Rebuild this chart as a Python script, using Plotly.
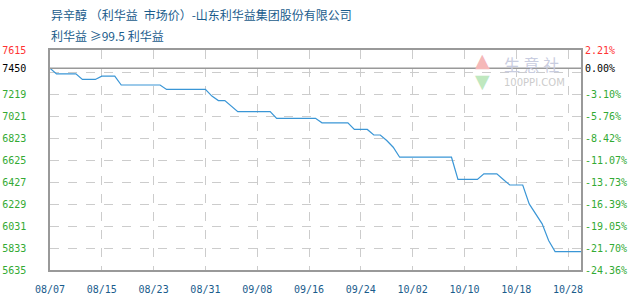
import plotly.graph_objects as go

# ---- data ----
TITLE = "异辛醇 （利华益\u2002市场价）-山东利华益集团股份有限公司"
SUBTITLE = "利华益 ≥99.5 利华益"
BASE = 7450
x_labels = ["08/07", "08/15", "08/23", "08/31", "09/08", "09/16", "09/24",
            "10/02", "10/10", "10/18", "10/28"]
x_label_pos = [0, 8, 16, 24, 32, 40, 48, 56, 64, 72, 80]
prices = [7450, 7400, 7400, 7400, 7400, 7350, 7350, 7350, 7380, 7380,
          7380, 7300, 7300, 7300, 7300, 7300, 7300, 7300, 7260, 7260,
          7260, 7260, 7260, 7260, 7260, 7200, 7160, 7160, 7110, 7060,
          7060, 7060, 7060, 7060, 7060, 7000, 7000, 7000, 7000, 7000,
          7000, 7000, 6960, 6960, 6960, 6960, 6960, 6900, 6900, 6900,
          6850, 6850, 6800, 6740, 6650, 6650, 6650, 6650, 6650, 6650,
          6650, 6650, 6650, 6450, 6450, 6450, 6450, 6500, 6500, 6500,
          6450, 6400, 6400, 6400, 6230, 6140, 6050, 5900, 5800, 5800,
          5800, 5800, 5800]
y_min, y_max, y_step = 5635, 7615, 198

xs = list(range(len(prices)))

grid_vals = [y_min + y_step * i for i in range(11)]
tick_vals = grid_vals + [BASE]


def left_label(v):
    if v == y_max:
        return f"<span style='color:#ff3333'>{v}</span>"
    if v == BASE:
        return f"<span style='color:#000000'>{v}</span>"
    if abs(v - BASE) < 40:
        return ""
    return str(v)


def right_label(v):
    pct = (v - BASE) / BASE * 100
    s = f"{pct:.2f}%"
    if v == y_max:
        return f"<span style='color:#ff3333'>{s}</span>"
    if v == BASE:
        return f"<span style='color:#000000'>{s}</span>"
    if abs(v - BASE) < 40:
        return ""
    return s


fig = go.Figure()
fig.add_trace(go.Scatter(x=xs, y=prices, mode="lines",
                         line=dict(color="#3a96d6", width=1.2, shape="linear"),
                         hoverinfo="skip", showlegend=False))
# invisible trace for the right axis
fig.add_trace(go.Scatter(x=[xs[0]], y=[BASE], yaxis="y2", mode="markers",
                         marker=dict(opacity=0), hoverinfo="skip", showlegend=False))

fig.add_hline(y=BASE, line=dict(color="#999999", width=1.5))

tick_font = dict(family="DejaVu Sans Mono", size=10)

fig.update_layout(
    width=630, height=300,
    margin=dict(l=50, r=49, t=50, b=30, autoexpand=False),
    paper_bgcolor="white", plot_bgcolor="white",
    xaxis=dict(range=[0, 82], tickmode="array", tickvals=x_label_pos,
               ticktext=x_labels, showgrid=True, gridcolor="#cccccc",
               griddash="dash", gridwidth=1, zeroline=False, automargin=False,
               showline=True, linecolor="#999999", linewidth=1.5, mirror=True,
               ticks="", ticklabelstandoff=9,
               tickfont=dict(tick_font, color="#1a5c8c")),
    yaxis=dict(range=[y_min, y_max], tickmode="array", tickvals=tick_vals,
               ticktext=[left_label(v) for v in tick_vals], automargin=False,
               showgrid=True, gridcolor="#cccccc", griddash="dash", gridwidth=1,
               zeroline=False, showline=True, linecolor="#999999", linewidth=1.5,
               mirror=True, ticks="", ticklabelstandoff=20,
               tickfont=dict(tick_font, color="#33aa33")),
    yaxis2=dict(range=[y_min, y_max], overlaying="y", side="right",
                tickmode="array", tickvals=tick_vals, automargin=False,
                ticktext=[right_label(v) for v in tick_vals],
                showgrid=False, zeroline=False, ticks="", ticklabelstandoff=3,
                tickfont=dict(tick_font, color="#33aa33")),
    annotations=[
        dict(text=TITLE, xref="paper", yref="paper", x=0,
             y=(270 - 15) / 220, xanchor="left", yanchor="middle",
             showarrow=False, borderpad=0,
             font=dict(family="Noto Sans CJK SC", size=12, color="#1a5c8c")),
        dict(text=SUBTITLE, xref="paper", yref="paper", x=0,
             y=(270 - 36) / 220, xanchor="left", yanchor="middle",
             showarrow=False, borderpad=0,
             font=dict(family="Noto Sans CJK SC", size=12, color="#1a5c8c")),
        dict(text="▲", xref="paper", yref="paper", x=(482 - 50) / 531,
             y=(270 - 60) / 220, xanchor="center", yanchor="middle",
             showarrow=False, borderpad=0,
             font=dict(family="DejaVu Sans", size=19, color="#f5b8b8")),
        dict(text="▼", xref="paper", yref="paper", x=(482 - 50) / 531,
             y=(270 - 81) / 220, xanchor="center", yanchor="middle",
             showarrow=False, borderpad=0,
             font=dict(family="DejaVu Sans", size=19, color="#bfe8bf")),
        dict(text="生 意 社", xref="paper", yref="paper", x=(503 - 50) / 531,
             y=(270 - 64) / 220, xanchor="left", yanchor="middle",
             showarrow=False, borderpad=0,
             font=dict(family="Noto Sans CJK SC", size=16, color="#c9cde0")),
        dict(text="100PPI.COM", xref="paper", yref="paper", x=(503 - 50) / 531,
             y=(270 - 82) / 220, xanchor="left", yanchor="middle",
             showarrow=False, borderpad=0,
             font=dict(family="DejaVu Sans", size=10, color="#cccccc")),
    ],
)

fig.write_html("out.html")
